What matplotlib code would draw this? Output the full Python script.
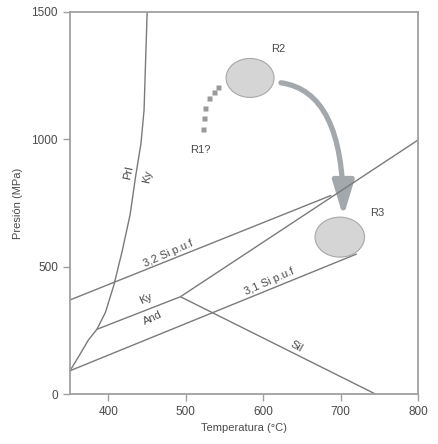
import matplotlib
matplotlib.use("Agg")
import matplotlib.pyplot as plt
from matplotlib.patches import Ellipse, FancyArrowPatch

plt.rcParams['font.family'] = ['Liberation Sans', 'DejaVu Sans']

# Prl / Ky curve
prl_T = [350, 364, 374, 385, 396, 407, 418, 428, 435, 442, 446, 448, 450]
prl_P = [90, 160, 212, 254, 320, 428, 565, 705, 853, 984, 1115, 1311, 1500]
# 3,2 Si p.u.f
si32_T = [350, 688]
si32_P = [369, 780]
# 3,1 Si p.u.f
si31_T = [350, 721]
si31_P = [91, 550]
# Ky / And
kyand_T = [385, 493]
kyand_P = [254, 382]
# Ky / Sil
kysil_T = [493, 800]
kysil_P = [382, 997]
# And / Sil
andsil_T = [493, 745]
andsil_P = [382, 0]
# R1? dotted path
r1_T = [521.7, 523, 524.7, 530.3, 536.8, 541.2]
r1_P = [1039, 1082, 1122, 1161, 1187, 1204]
# Ellipses (center T, center P, width, height)
r2 = (583, 1241, 62, 153)
r3 = (699, 616, 64, 157)
# arrow start / end
arrow_start = (623, 1222)
arrow_end = (703.5, 696)

xticks = [400, 500, 600, 700, 800]
yticks = [0, 500, 1000, 1500]

fig = plt.figure(figsize=(4.39, 4.44), dpi=100)
ax = fig.add_axes([0.159, 0.1126, 0.793, 0.8604])
ax.set_xlim(350, 800)
ax.set_ylim(0, 1500)

lc = '#7a7a7a'
lw = 1.0
for T, P in [(prl_T, prl_P), (si32_T, si32_P), (si31_T, si31_P),
             (kyand_T, kyand_P), (kysil_T, kysil_P), (andsil_T, andsil_P)]:
    ax.plot(T, P, color=lc, lw=lw, clip_on=False, solid_capstyle='butt',
            solid_joinstyle='round')

ax.plot(r1_T, r1_P, ls='none', marker='s', ms=3.6, color='#9a9a9a', mec='none')

for (cx, cy, w, h) in [r2, r3]:
    ax.add_patch(Ellipse((cx, cy), w, h, facecolor='#d5d5d5', edgecolor='#a8a8a8', lw=0.8))

arr = FancyArrowPatch(arrow_start, arrow_end, connectionstyle='angle3,angleA=-8,angleB=90',
                      arrowstyle='-|>,head_length=1.05,head_width=0.32',
                      mutation_scale=20, lw=3.8, color='#a3a8ac', shrinkA=0, shrinkB=0)
ax.add_patch(arr)

tc = '#4a4a4a'
fs = 8
ax.text(619, 1354, 'R2', fontsize=fs, color=tc, ha='center', va='center')
ax.text(747, 711, 'R3', fontsize=fs, color=tc, ha='center', va='center')
ax.text(519, 958, 'R1?', fontsize=fs, color=tc, ha='center', va='center')
ax.text(426, 867, 'Prl', fontsize=fs, color=tc, ha='center', va='center', rotation=78)
ax.text(450, 852, 'Ky', fontsize=fs, color=tc, ha='center', va='center', rotation=78)
ax.text(477, 553, '3,2 Si p.u.f', fontsize=fs, color=tc, ha='center', va='center', rotation=24)
ax.text(449, 373, 'Ky', fontsize=fs, color=tc, ha='center', va='center', rotation=25)
ax.text(457, 298, 'And', fontsize=fs, color=tc, ha='center', va='center', rotation=25)
ax.text(608, 440, '3,1 Si p.u.f', fontsize=fs, color=tc, ha='center', va='center', rotation=24)
ax.text(643, 188, 'Sil', fontsize=fs, color=tc, ha='center', va='center', rotation=-30)

sc = '#a0a0a0'
for s in ax.spines.values():
    s.set_color(sc)
    s.set_linewidth(1.3)
ax.set_xticks(xticks)
ax.set_yticks(yticks)
ax.tick_params(axis='both', direction='out', length=5, width=1.0, color=sc,
               labelcolor=tc, labelsize=8.5)
ax.set_xlabel('Temperatura (°C)', fontsize=8, color=tc, labelpad=4)
ax.set_ylabel('Presión (MPa)', fontsize=8, color=tc, labelpad=6)

fig.savefig('out.png', dpi=100)
